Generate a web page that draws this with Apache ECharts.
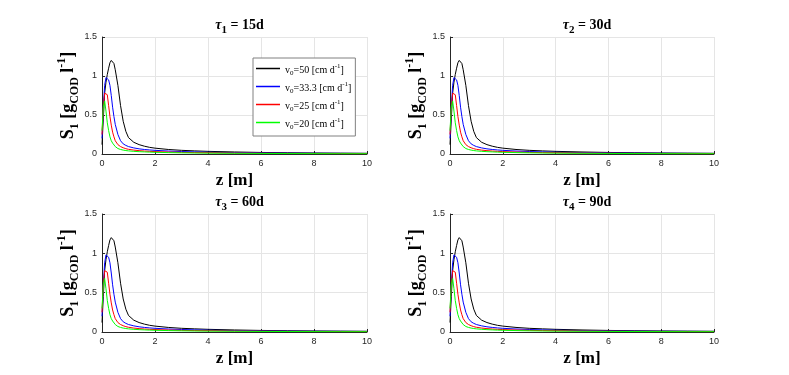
<!DOCTYPE html>
<html>
<head>
<meta charset="utf-8">
<script src="https://cdn.jsdelivr.net/npm/echarts@6/dist/echarts.min.js"></script>
<style>
  html, body { margin: 0; padding: 0; background: #fff; }
  #main { width: 789px; height: 375px; }
</style>
</head>
<body>
<div id="main"></div>
<script>
// z positions along the column [m]
var zValues = [0, 0.05, 0.1, 0.15, 0.2, 0.25, 0.3, 0.35, 0.4, 0.45, 0.5, 0.6, 0.7, 0.8, 0.9, 1.0,
  1.2, 1.4, 1.6, 1.8, 2, 2.5, 3, 3.5, 4, 5, 6, 7, 8, 9, 10];
// S1 for each inflow velocity (same in all four panels)
var s1v50 = [0.12, 0.45, 0.78, 0.92, 1.02, 1.1, 1.17, 1.2, 1.2, 1.16, 1.08, 0.88, 0.62, 0.42, 0.29, 0.21,
  0.15, 0.12, 0.1, 0.085, 0.075, 0.058, 0.047, 0.04, 0.034, 0.026, 0.02, 0.016, 0.013, 0.011, 0.009];
var s1v33 = [0.2, 0.6, 0.88, 0.98, 1.0, 0.95, 0.88, 0.75, 0.6, 0.48, 0.38, 0.25, 0.17, 0.13, 0.11, 0.095,
  0.078, 0.066, 0.058, 0.052, 0.047, 0.038, 0.032, 0.027, 0.023, 0.018, 0.014, 0.011, 0.009, 0.008, 0.007];
var s1v25 = [0.25, 0.6, 0.78, 0.78, 0.76, 0.62, 0.48, 0.37, 0.28, 0.22, 0.17, 0.12, 0.095, 0.08, 0.068, 0.06,
  0.05, 0.043, 0.038, 0.034, 0.031, 0.025, 0.021, 0.018, 0.016, 0.012, 0.01, 0.008, 0.007, 0.006, 0.005];
var s1v20 = [0.3, 0.6, 0.68, 0.55, 0.4, 0.3, 0.22, 0.17, 0.14, 0.115, 0.095, 0.07, 0.058, 0.05, 0.044, 0.04,
  0.034, 0.03, 0.027, 0.024, 0.022, 0.018, 0.015, 0.013, 0.011, 0.009, 0.007, 0.006, 0.005, 0.004, 0.004];

var seriesNames = ['v0=50', 'v0=33.3', 'v0=25', 'v0=20'];
var seriesColors = ['#000000', '#0000ff', '#ff0000', '#00ff00'];
var seriesData = [s1v50, s1v33, s1v25, s1v20];
var panelTaus = ['1', '2', '3', '4'];
var panelDays = ['15d', '30d', '60d', '90d'];
var yTicks = [0, 0.5, 1, 1.5];

var serif = 'Liberation Serif';
var sans = 'Liberation Sans';

var grids = [
  { left: 102, top: 37, width: 265, height: 117 },
  { left: 450, top: 37, width: 264, height: 117 },
  { left: 102, top: 214, width: 265, height: 118 },
  { left: 450, top: 214, width: 264, height: 118 }
];

var labelRich = {
  n: { fontFamily: serif, fontWeight: 'bold', fontSize: 18, color: '#000', lineHeight: 19, padding: [4, 0, 0, 0], verticalAlign: 'top' },
  s: { fontFamily: serif, fontWeight: 'bold', fontSize: 12, color: '#000', lineHeight: 13, padding: [13, 0, 0, 0], verticalAlign: 'top' },
  p: { fontFamily: serif, fontWeight: 'bold', fontSize: 12, color: '#000', lineHeight: 13, padding: [0, 0, 0, 0], verticalAlign: 'top' }
};

var titleRich = {
  t: { fontFamily: serif, fontStyle: 'italic', fontWeight: 'bold', fontSize: 14, color: '#000', lineHeight: 14, padding: [2, 0, 0, 0], verticalAlign: 'top' },
  n: { fontFamily: serif, fontWeight: 'bold', fontSize: 14, color: '#000', lineHeight: 14, padding: [2, 0, 0, 0], verticalAlign: 'top' },
  s: { fontFamily: serif, fontWeight: 'bold', fontSize: 11, color: '#000', lineHeight: 11, padding: [9, 0, 0, 0], verticalAlign: 'top' }
};

var legendRich = {
  n: { fontFamily: serif, fontSize: 10, color: '#000', lineHeight: 11, padding: [2, 0, 0, 0], verticalAlign: 'top' },
  s: { fontFamily: serif, fontSize: 7, color: '#000', lineHeight: 8, padding: [7, 0, 0, 0], verticalAlign: 'top' },
  p: { fontFamily: serif, fontSize: 7, color: '#000', lineHeight: 8, padding: [0, 0, 0, 0], verticalAlign: 'top' }
};

var titles = [], xAxes = [], yAxes = [], series = [];
for (var i = 0; i < 4; i++) {
  var g = grids[i];
  titles.push({
    text: '{t|τ}{s|' + panelTaus[i] + '}{n| = ' + panelDays[i] + '}',
    left: g.left + g.width / 2,
    top: g.top - 26,
    textAlign: 'center',
    textStyle: { rich: titleRich }
  });
  xAxes.push({
    type: 'value', gridIndex: i, min: 0, max: 10, interval: 2,
    name: 'z [m]', nameLocation: 'middle', nameGap: 18,
    nameTextStyle: { fontFamily: serif, fontWeight: 'bold', fontSize: 17, color: '#000' },
    axisLine: { lineStyle: { color: '#262626', width: 1 } },
    axisTick: { inside: true, length: 3, lineStyle: { color: '#262626' } },
    axisLabel: { fontFamily: sans, fontSize: 9, color: '#262626', margin: 5 },
    splitLine: { show: true, lineStyle: { color: '#e5e5e5', width: 1 } }
  });
  yAxes.push({
    type: 'value', gridIndex: i, min: 0, max: 1.5, interval: 0.5,
    name: '{n|S}{s|1}{n| [g}{s|COD}{n| l}{p|-1}{n|]}',
    nameLocation: 'middle', nameRotate: 90, nameGap: 22,
    nameTextStyle: { rich: labelRich },
    axisLine: { show: true, lineStyle: { color: '#262626', width: 1 } },
    axisTick: { show: true, inside: true, length: 3, lineStyle: { color: '#262626' } },
    axisLabel: {
      fontFamily: sans, fontSize: 9, color: '#262626', margin: 5,
      formatter: function (v) { return yTicks.indexOf(v) >= 0 ? String(v) : ''; }
    },
    splitLine: { show: true, lineStyle: { color: '#e5e5e5', width: 1 } }
  });
  for (var k = 0; k < 4; k++) {
    series.push({
      name: seriesNames[k],
      type: 'line',
      xAxisIndex: i,
      yAxisIndex: i,
      symbol: 'none',
      smooth: false,
      lineStyle: { color: seriesColors[k], width: 1 },
      itemStyle: { color: seriesColors[k] },
      data: zValues.map(function (z, j) { return [z, seriesData[k][j]]; })
    });
  }
}

var legendLabels = {
  'v0=50': '{n|v}{s|0}{n|=50 [cm d}{p|-1}{n|]}',
  'v0=33.3': '{n|v}{s|0}{n|=33.3 [cm d}{p|-1}{n|]}',
  'v0=25': '{n|v}{s|0}{n|=25 [cm d}{p|-1}{n|]}',
  'v0=20': '{n|v}{s|0}{n|=20 [cm d}{p|-1}{n|]}'
};

var myChart = echarts.init(document.getElementById('main'));
var option = {
  backgroundColor: '#ffffff',
  animation: false,
  title: titles,
  legend: {
    data: seriesNames.map(function (n, idx) {
      return { name: n, icon: 'rect', itemStyle: { color: seriesColors[idx], borderWidth: 0 } };
    }),
    orient: 'vertical',
    left: 253,
    top: 58,
    padding: [5, 4, 5, 3],
    itemGap: 4,
    itemWidth: 24,
    itemHeight: 1.5,
    lineStyle: { width: 0, opacity: 0 },
    backgroundColor: '#ffffff',
    borderColor: '#808080',
    borderWidth: 1,
    borderRadius: 0,
    formatter: function (name) { return legendLabels[name]; },
    textStyle: { rich: legendRich }
  },
  grid: grids,
  xAxis: xAxes,
  yAxis: yAxes,
  series: series
};
myChart.setOption(option);
</script>
</body>
</html>
